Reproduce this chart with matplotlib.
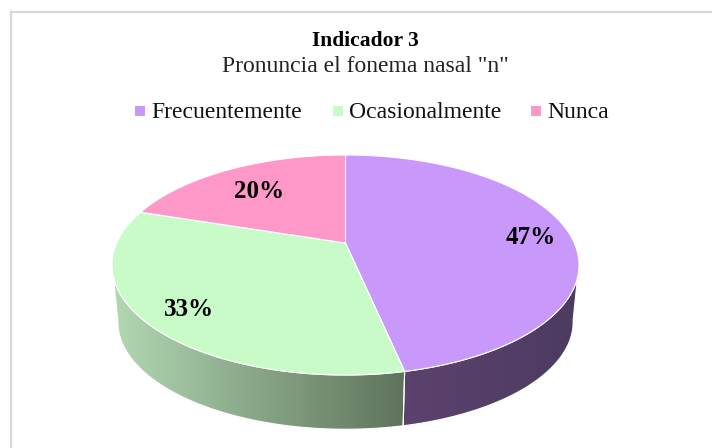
import numpy as np
import matplotlib
matplotlib.use("Agg")
import matplotlib.pyplot as plt
from matplotlib.patches import Polygon

# responses out of 30 (labels show 47 / 33 / 20 %)
categories = ["Frecuentemente", "Ocasionalmente", "Nunca"]
counts = [14, 10, 6]
colors = ["#c998fb", "#c8fbc8", "#fd98c9"]
wall_left = [(0.36, 0.26, 0.43), (0.70, 0.85, 0.70), (0.6, 0.4, 0.5)]
wall_right = [(0.30, 0.23, 0.38), (0.37, 0.45, 0.36), (0.5, 0.3, 0.4)]
label_pos = [(531, 237), (189, 310), (259, 192)]

plt.rcParams["font.family"] = ["Liberation Serif", "DejaVu Serif"]

fig = plt.figure(figsize=(7.12, 4.48), dpi=100)
ax = fig.add_axes([0, 0, 1, 1])
ax.set_xlim(0, 712)
ax.set_ylim(448, 0)
ax.axis("off")

# chart frame, only left and top are visible
ax.plot([11, 11], [448, 12], color="#d9d9d9", lw=1.6)
ax.plot([11, 712], [12, 12], color="#d9d9d9", lw=1.6)

# perspective pie geometry
cx, cy = 345.5, 265
rx, ry = 233.5, 110
a = 0.2
depth = 57
shrink = 0.975


def rim(theta, scale=1.0, dy=0.0):
    u, v = np.sin(theta), np.cos(theta)
    w = 1 + a * v
    return (cx + scale * rx * u * np.sqrt(1 - a ** 2) / w,
            cy + dy - scale * ry * (v + a) / w)


fracs = np.array(counts) / sum(counts)
edges = np.concatenate([[0], np.cumsum(fracs)]) * 2 * np.pi
center = (cx, cy - ry * a)

# side walls (front half only)
for i in range(3):
    t = np.linspace(edges[i], edges[i + 1], 300)
    x0, y0 = rim(t)
    x1, y1 = rim(t, shrink, depth)
    keep = y0 >= cy - 2
    if keep.sum() < 2:
        continue
    x0, y0, x1, y1 = x0[keep], y0[keep], x1[keep], y1[keep]
    pts = np.vstack([np.c_[x0, y0], np.c_[x1, y1][::-1]])
    xmin, xmax = pts[:, 0].min(), pts[:, 0].max()
    ramp = np.linspace(0, 1, 256)
    l, r = np.array(wall_left[i]), np.array(wall_right[i])
    img = np.outer(ramp, r) + np.outer(1 - ramp, l)
    im = ax.imshow(img[None, :, :], extent=[xmin, xmax, pts[:, 1].max(), pts[:, 1].min()],
                   aspect="auto", zorder=2)
    poly = Polygon(pts, closed=True, facecolor="none", edgecolor="white", lw=0.8, zorder=3)
    ax.add_patch(poly)
    im.set_clip_path(poly)

ax.set_xlim(0, 712)
ax.set_ylim(448, 0)

# top face
for i in range(3):
    t = np.linspace(edges[i], edges[i + 1], 300)
    x0, y0 = rim(t)
    pts = np.vstack([[center], np.c_[x0, y0]])
    ax.add_patch(Polygon(pts, closed=True, facecolor=colors[i], edgecolor="white", lw=0.8, zorder=4))

for frac, pos in zip(fracs, label_pos):
    ax.text(pos[0], pos[1], f"{frac * 100:.0f}%", ha="center", va="center",
            fontsize=18, fontweight="bold", color="black", zorder=5)

# title
ax.text(365, 41, "Indicador 3", ha="center", va="center", fontsize=15.5, fontweight="bold", color="black")
ax.text(365, 66, 'Pronuncia el fonema nasal "n"', ha="center", va="center", fontsize=17, color="#222222")

# legend
legend_x = [135, 333, 531]
for name, col, x in zip(categories, colors, legend_x):
    ax.scatter([x + 5], [111], marker="s", s=42, color=col, linewidths=0)
    ax.text(x + 16, 112, name, ha="left", va="center", fontsize=17, color="#111111")

fig.savefig("out.png", dpi=100)
